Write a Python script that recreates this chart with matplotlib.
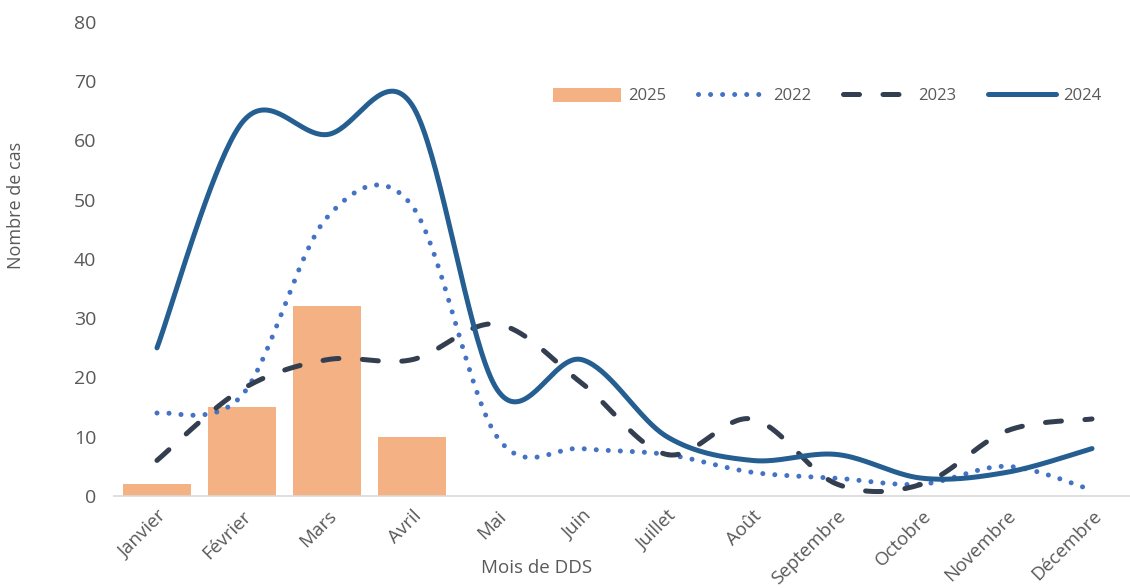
import numpy as np
import matplotlib
matplotlib.use("Agg")
import matplotlib.pyplot as plt
from matplotlib.lines import Line2D
from matplotlib.patches import Patch

months = ["Janvier", "Février", "Mars", "Avril", "Mai", "Juin", "Juillet",
          "Août", "Septembre", "Octobre", "Novembre", "Décembre"]
cases_2025 = [2, 15, 32, 10]
cases_2022 = [14, 17, 47, 49, 10, 8, 7, 4, 3, 2, 5, 1]
cases_2023 = [6, 18, 23, 23, 29, 19, 7, 13, 2, 2, 11, 13]
cases_2024 = [25, 63, 61, 66, 18, 23, 10, 6, 7, 3, 4, 8]
y_ticks = [0, 10, 20, 30, 40, 50, 60, 70, 80]

plt.rcParams['font.family'] = ['Open Sans', 'DejaVu Sans']


def smooth(y, n=40):
    """Excel-like smoothed line (Catmull-Rom Bezier through the points)."""
    y = np.asarray(y, dtype=float)
    x = np.arange(len(y), dtype=float)
    P = np.column_stack([x, y])
    N = len(P)
    xs, ys = [], []
    t = np.linspace(0, 1, n)[:, None]
    for i in range(N - 1):
        pm = P[i - 1] if i > 0 else P[i]
        pp = P[i + 2] if i + 2 < N else P[i + 1]
        p0, p3 = P[i], P[i + 1]
        p1 = p0 + (p3 - pm) / 6.0
        p2 = p3 - (pp - p0) / 6.0
        pts = ((1 - t) ** 3) * p0 + 3 * ((1 - t) ** 2) * t * p1 + 3 * (1 - t) * t ** 2 * p2 + t ** 3 * p3
        if i > 0:
            pts = pts[1:]
        xs.append(pts[:, 0])
        ys.append(pts[:, 1])
    return np.concatenate(xs), np.concatenate(ys)


fig = plt.figure(figsize=(11.3, 5.88), dpi=100)
ax = fig.add_axes([0.1013, 0.1565, 0.9027, 0.8061])

c25 = "#F4B183"
c22 = "#4472C4"
c23 = "#333F50"
c24 = "#255E91"
gray = "#595959"

dot_style = (0, (0.01, 2.4))
dash_style = (0, (3.2, 4.7))

ax.bar(np.arange(len(cases_2025)), cases_2025, width=0.8, color=c25, zorder=1)

x22, y22 = smooth(cases_2022)
ax.plot(x22, y22, color=c22, lw=3.6, linestyle=dot_style,
        dash_capstyle='round', zorder=3)
x23, y23 = smooth(cases_2023)
ax.plot(x23, y23, color=c23, lw=3.6, linestyle=dash_style,
        dash_capstyle='round', zorder=3)
x24, y24 = smooth(cases_2024)
ax.plot(x24, y24, color=c24, lw=3.6, solid_capstyle='round', zorder=4)

ax.set_xlim(-0.5, len(months) - 0.5)
ax.set_ylim(0, 80)
ax.set_yticks(y_ticks)
ax.set_xticks(np.arange(len(months)))
ax.set_xticklabels(months, rotation=45, ha='right', rotation_mode='anchor')
ax.tick_params(axis='both', length=0, labelsize=14, colors=gray)
ax.tick_params(axis='x', pad=8, labelsize=13.5)
ax.tick_params(axis='y', pad=13)

for s in ['top', 'right', 'left']:
    ax.spines[s].set_visible(False)
ax.spines['bottom'].set_color("#D9D9D9")
ax.spines['bottom'].set_linewidth(1.2)

ax.set_xlabel("Mois de DDS", fontsize=13.5, color=gray)
ax.xaxis.set_label_coords(0.414, -0.152)
ax.xaxis.label.set_va('center')
ax.set_ylabel("Nombre de cas", fontsize=13, color=gray)
ax.yaxis.set_label_coords(-0.0966, 0.614)
ax.yaxis.label.set_va('center')

handles = [
    Patch(facecolor=c25, edgecolor='none'),
    Line2D([], [], color=c22, lw=3.6, linestyle=dot_style, dash_capstyle='round'),
    Line2D([], [], color=c23, lw=3.6, linestyle=dash_style, dash_capstyle='round'),
    Line2D([], [], color=c24, lw=3.6, solid_capstyle='round'),
]
leg = fig.legend(handles, ["2025", "2022", "2023", "2024"], loc='center',
                 bbox_to_anchor=(827 / 1130, 1 - 96 / 588), ncol=4, frameon=False,
                 fontsize=12, handlelength=4.1, handleheight=0.9, columnspacing=1.9,
                 handletextpad=0.42, labelcolor=gray)

fig.savefig("out.png", dpi=100)
